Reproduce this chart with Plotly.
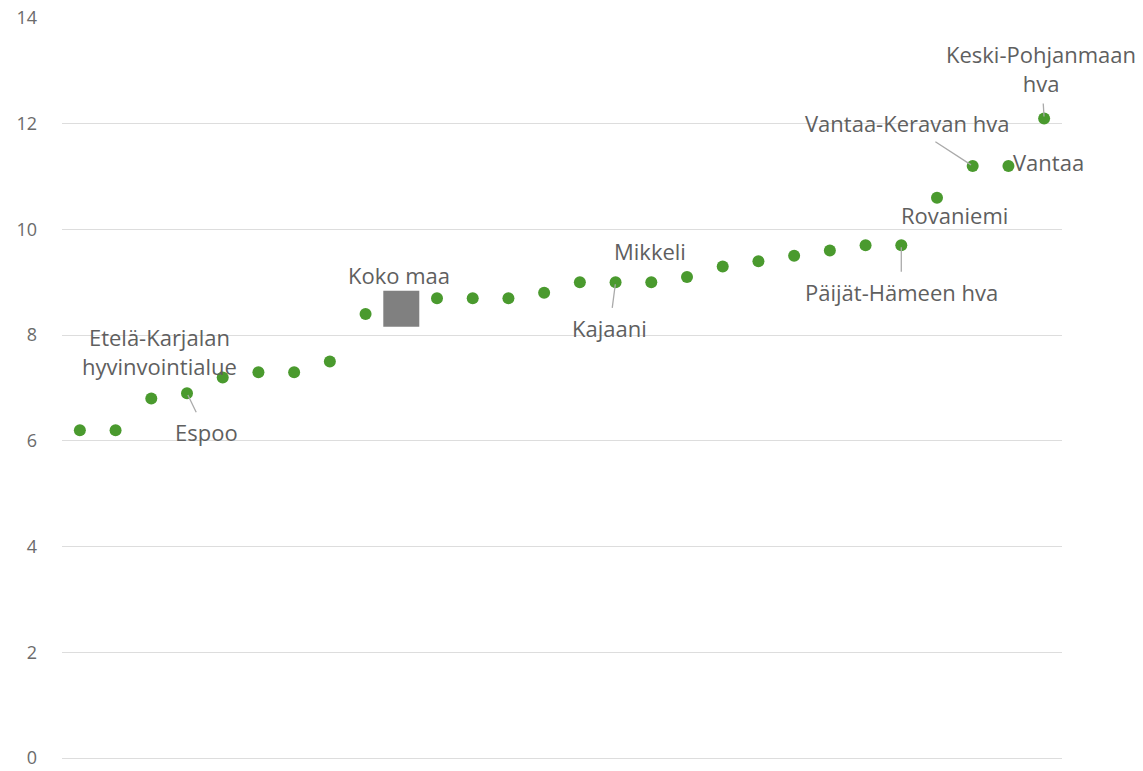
import plotly.graph_objects as go

# Data (sorted values), labels only for annotated points
values = [6.2, 6.2, 6.8, 6.9, 7.2, 7.3, 7.3, 7.5, 8.4, 8.5, 8.7, 8.7, 8.7, 8.8,
          9.0, 9.0, 9.0, 9.1, 9.3, 9.4, 9.5, 9.6, 9.7, 9.7, 10.6, 11.2, 11.2, 12.1]
names = ["", "", "Etelä-Karjalan<br>hyvinvointialue", "Espoo", "", "", "", "", "",
         "Koko maa", "", "", "", "", "", "Kajaani", "Mikkeli", "", "", "", "", "", "",
         "Päijät-Hämeen hva", "Rovaniemi", "Vantaa-Keravan hva", "Vantaa",
         "Keski-Pohjanmaan<br>hva"]
highlight = "Koko maa"
y_ticks = [0, 2, 4, 6, 8, 10, 12, 14]

xs = list(range(len(values)))
green = "#4a9a2e"
gray = "#808080"
txt = "#5f5f5f"
FONT = "Open Sans"

normal_x = [x for x, n in zip(xs, names) if n != highlight]
normal_y = [v for v, n in zip(values, names) if n != highlight]
hi_x = [x for x, n in zip(xs, names) if n == highlight]
hi_y = [v for v, n in zip(values, names) if n == highlight]

fig = go.Figure()
fig.add_trace(go.Scatter(x=normal_x, y=normal_y, mode="markers",
                         marker=dict(color=green, size=12, line=dict(width=0)),
                         showlegend=False, hoverinfo="skip", cliponaxis=False))
fig.add_trace(go.Scatter(x=hi_x, y=hi_y, mode="markers",
                         marker=dict(color=gray, size=36, symbol="square", line=dict(width=0)),
                         showlegend=False, hoverinfo="skip", cliponaxis=False))

place = {
    "Etelä-Karjalan<br>hyvinvointialue": dict(showarrow=False, xshift=8, yshift=47),
    "Espoo": dict(showarrow=True, ax=19, ay=39),
    "Koko maa": dict(showarrow=False, xshift=-2, yshift=34),
    "Kajaani": dict(showarrow=True, ax=-6, ay=46),
    "Mikkeli": dict(showarrow=False, xshift=-1, yshift=31),
    "Päijät-Hämeen hva": dict(showarrow=True, ax=0, ay=47),
    "Rovaniemi": dict(showarrow=False, xshift=17, yshift=-17),
    "Vantaa-Keravan hva": dict(showarrow=True, ax=-66, ay=-43),
    "Vantaa": dict(showarrow=False, xshift=3, yshift=4, xanchor="left"),
    "Keski-Pohjanmaan<br>hva": dict(showarrow=True, ax=-3, ay=-50),
}
for x, v, n in zip(xs, values, names):
    if not n:
        continue
    p = dict(place[n])
    a = dict(x=x, y=v, xref="x", yref="y", text=n,
             font=dict(family=FONT, size=22, color=txt))
    if p.pop("showarrow"):
        a.update(showarrow=True, arrowhead=0, arrowwidth=1.3, arrowcolor="#aaaaaa",
                 axref="pixel", ayref="pixel", standoff=2, startstandoff=4, **p)
    else:
        a.update(showarrow=False, **p)
    fig.add_annotation(**a)

fig.update_layout(
    width=1143, height=771,
    margin=dict(l=62, r=81, t=18, b=13),
    plot_bgcolor="white", paper_bgcolor="white",
    font=dict(family=FONT, size=16, color="#6b6b6b"),
    xaxis=dict(range=[-0.5, len(values) - 0.5], showgrid=False, zeroline=False,
               showticklabels=False, showline=False, ticks="", automargin=False),
    yaxis=dict(range=[0, 14], tickvals=y_ticks, showgrid=True, gridcolor="#dddddd",
               gridwidth=1, zeroline=True, zerolinecolor="#dddddd", zerolinewidth=1,
               showline=False, ticks="", ticklabeloverflow="allow", automargin=False,
               ticklabelstandoff=24, tickfont=dict(size=18, color="#6b6b6b")),
)
fig.write_html("out.html", config={"displayModeBar": False},
               post_script="document.body.style.margin='0';document.body.style.overflow='hidden';")
